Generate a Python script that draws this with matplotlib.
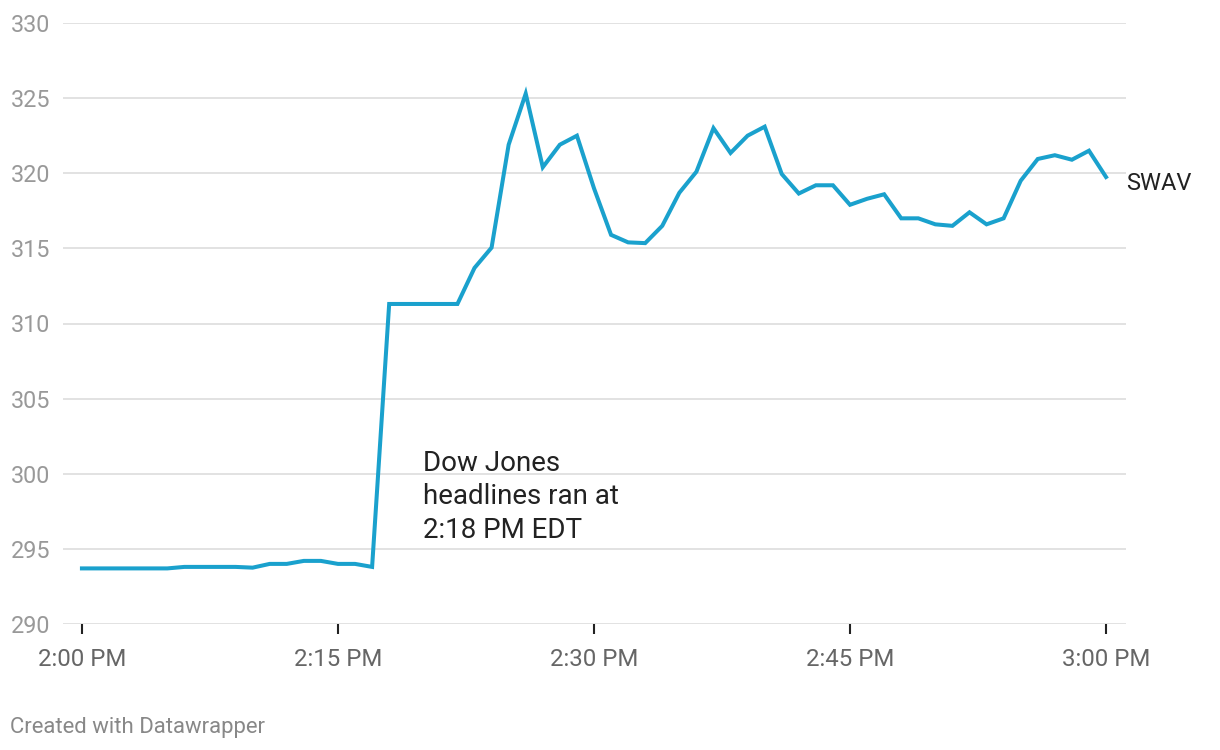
import matplotlib.pyplot as plt

# -------------------------------------------
# SWAV price, one value per minute 2:00-3:00

minutes = list(range(61))
prices = [
    293.7, 293.7, 293.7, 293.7, 293.7, 293.7, 293.8, 293.8, 293.8, 293.8,
    293.75, 294.0, 294.0, 294.2, 294.2, 294.0, 294.0, 293.8, 311.3, 311.3,
    311.3, 311.3, 311.3, 313.7, 315.05, 321.9, 325.3, 320.4, 321.9, 322.5,
    319.0, 315.9, 315.4, 315.35, 316.5, 318.7, 320.1, 323.0, 321.35, 322.5,
    323.1, 319.95, 318.65, 319.2, 319.2, 317.9, 318.3, 318.6, 317.0, 317.0,
    316.6, 316.5, 317.4, 316.6, 317.0, 319.5, 320.95, 321.2, 320.9, 321.5,
    319.75,
]

x_ticks = [0, 15, 30, 45, 60]
x_tick_labels = ["2:00 PM", "2:15 PM", "2:30 PM", "2:45 PM", "3:00 PM"]
y_ticks = [290, 295, 300, 305, 310, 315, 320, 325, 330]

series_name = "SWAV"
note = "Dow Jones\nheadlines ran at\n2:18 PM EDT"
note_minute = 20
note_price = 301.58

# -------------------
# Set font parameters

plt.rcParams['font.family'] = ['Roboto', 'DejaVu Sans']

fig = plt.figure(figsize=(12.2, 7.5), dpi=100)
ax = fig.add_axes([63 / 1220, 1 - 624 / 750, (1126 - 63) / 1220, (624 - 23) / 750])

ax.plot(minutes, prices, color="#1aa1cd", linewidth=2.9, solid_joinstyle="miter",
        clip_on=False, zorder=3)

ax.set_xlim(-1.11, 61.17)
ax.set_ylim(290, 330)

# -----------------------
# Remove borders of chart

for spine in ['top', 'left', 'right', 'bottom']:
    ax.spines[spine].set_visible(False)

ax.set_yticks(y_ticks)
ax.set_yticklabels([str(v) for v in y_ticks])
ax.yaxis.grid(True, color="#e2e2e2", linewidth=1.4)
ax.set_axisbelow(True)
ax.tick_params(axis="y", length=0, pad=9.4, labelsize=16.8, labelcolor="#999999")

ax.set_xticks(x_ticks)
ax.set_xticklabels(x_tick_labels)
ax.tick_params(axis="x", length=7, width=1.5, color="#222222", pad=10.5,
               labelsize=17.3, labelcolor="#666666")

# ---------------------
# Labels and annotation

ax.annotate(series_name, xy=(minutes[-1], prices[-1]), xytext=(14.5, -4.5),
            textcoords="offset points", ha="left", va="center",
            fontsize=17, color="#222222", annotation_clip=False)

ax.text(note_minute, note_price, note, ha="left", va="top", fontsize=20,
        color="#222222", linespacing=1.3)

fig.text(10 / 1220, 1 - 727 / 750, "Created with Datawrapper", ha="left",
         va="center", fontsize=15.9, color="#888888")

fig.savefig("out.png", dpi=100)
